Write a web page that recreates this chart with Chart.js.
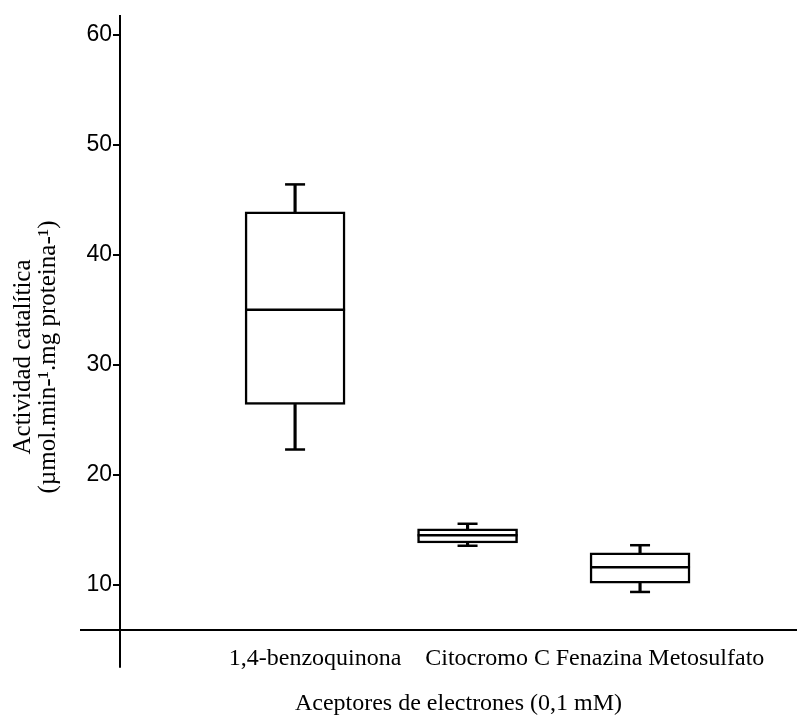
<!DOCTYPE html>
<html><head><meta charset="utf-8">
<script src="https://cdn.jsdelivr.net/npm/chart.js@4.4.1/dist/chart.umd.min.js"></script>
<style>html,body{margin:0;padding:0;background:#fff;overflow:hidden}#wrap{width:797px;height:724px;position:relative}</style>
</head><body><div id="wrap"><canvas id="c"></canvas></div>
<script>
const categories = ['1,4-benzoquinona', 'Citocromo C', 'Fenazina Metosulfato'];
const categoryPositions = [1, 2, 3];
const minValues = [22.3, 13.55, 9.35];
const q1Values = [26.4, 13.8, 10.15];
const medianValues = [35.0, 14.5, 11.6];
const q3Values = [43.9, 15.1, 12.9];
const maxValues = [46.4, 15.55, 13.6];
const yTickValues = [10, 20, 30, 40, 50, 60];
const yTitleLines = ['Actividad catalítica', '(µmol.min-¹.mg proteina-¹)'];
const xTitle = 'Aceptores de electrones (0,1 mM)';
const xAxisCrossing = 5.9;
const yAxisBottom = 2.45;

const SERIF = '"Liberation Serif", "Times New Roman", serif';
const SANS = '"Liberation Sans", Arial, sans-serif';

const pts = vals => categoryPositions.map((x, i) => ({ x: x, y: vals[i] }));
const ranges = (a, b) => categoryPositions.map((x, i) => ({ x: x, y: [a[i], b[i]] }));

const axisLines = {
  id: 'axisLines',
  afterDraw(chart) {
    const { ctx, chartArea, scales } = chart;
    const yCross = scales.y.getPixelForValue(xAxisCrossing);
    const yEnd = scales.y.getPixelForValue(yAxisBottom);
    ctx.save();
    ctx.strokeStyle = '#000';
    ctx.lineWidth = 2;
    ctx.beginPath();
    ctx.moveTo(chartArea.left - 40, yCross);
    ctx.lineTo(chartArea.right, yCross);
    ctx.moveTo(chartArea.left, chartArea.top);
    ctx.lineTo(chartArea.left, yEnd);
    ctx.stroke();
    ctx.restore();
  }
};

new Chart(document.getElementById('c'), {
  type: 'bar',
  data: {
    datasets: [
      { type: 'bar', data: ranges(minValues, q1Values), backgroundColor: '#000', borderWidth: 0, barThickness: 2.5, grouped: false, order: 3 },
      { type: 'bar', data: ranges(q3Values, maxValues), backgroundColor: '#000', borderWidth: 0, barThickness: 2.5, grouped: false, order: 3 },
      { type: 'bar', data: ranges(q1Values, q3Values), backgroundColor: '#fff', borderColor: '#000', borderWidth: 2.5, borderSkipped: false, barThickness: 100, grouped: false, order: 2 },
      { type: 'line', data: pts(medianValues), showLine: false, pointStyle: 'line', pointRadius: 50, pointHoverRadius: 50, pointBorderWidth: 2.5, pointBorderColor: '#000', order: 1 },
      { type: 'line', data: pts(maxValues), showLine: false, pointStyle: 'line', pointRadius: 10, pointHoverRadius: 10, pointBorderWidth: 2.5, pointBorderColor: '#000', order: 1 },
      { type: 'line', data: pts(minValues), showLine: false, pointStyle: 'line', pointRadius: 10, pointHoverRadius: 10, pointBorderWidth: 2.5, pointBorderColor: '#000', order: 1 }
    ]
  },
  options: {
    responsive: true,
    maintainAspectRatio: false,
    animation: false,
    layout: { autoPadding: false, padding: { top: 15, left: 0, right: 0, bottom: 0 } },
    plugins: { legend: { display: false }, tooltip: { enabled: false } },
    scales: {
      x: {
        type: 'linear', min: -0.015, max: 3.91, offset: false,
        afterBuildTicks: s => { s.ticks = categoryPositions.map(v => ({ value: v })); },
        afterFit: s => { s.height = 25; },
        border: { display: false },
        grid: { display: false, drawTicks: false, offset: false },
        ticks: { callback: (v, i) => categories[i], mirror: true, color: '#000', font: { family: SERIF, size: 24, lineHeight: 1.2 }, padding: 25.6, labelOffset: 20, maxRotation: 0, autoSkip: false },
        title: { display: true, text: xTitle, color: '#000', font: { family: SERIF, size: 24, lineHeight: 1.2 }, padding: { top: 0, bottom: 6 } }
      },
      y: {
        type: 'linear', min: -0.38, max: 61.8,
        afterBuildTicks: s => { s.ticks = yTickValues.map(v => ({ value: v })); },
        afterFit: s => { s.width = 120; },
        border: { display: false },
        grid: { display: true, drawOnChartArea: false, drawTicks: true, tickLength: 7, color: '#000', lineWidth: 2 },
        ticks: { color: '#000', font: { family: SANS, size: 23, lineHeight: 1.0 }, padding: 1 },
        title: { display: true, text: yTitleLines, color: '#000', font: { family: SERIF, size: 25, lineHeight: 1.0 }, padding: { top: 11, bottom: 0 } }
      }
    }
  },
  plugins: [axisLines]
});
</script>
</body></html>
